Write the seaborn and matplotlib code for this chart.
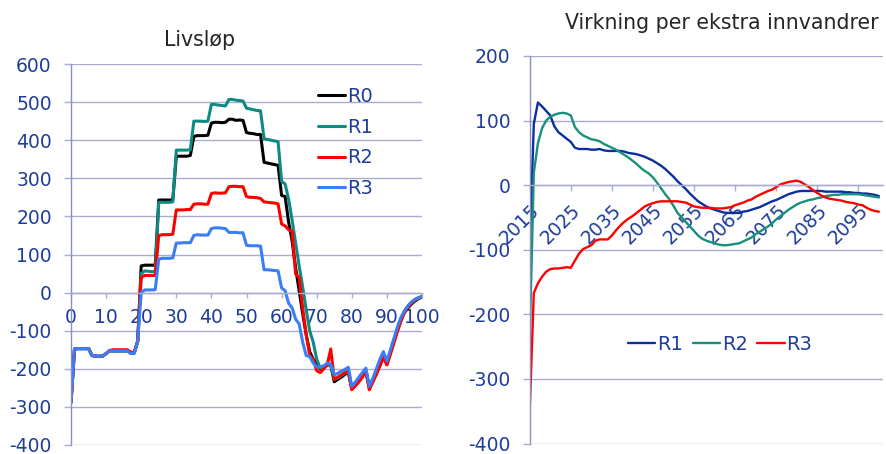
import matplotlib
matplotlib.use("Agg")
import matplotlib.pyplot as plt
import pandas as pd
import seaborn as sns

# --- Livsløp: netto bidrag etter alder ---
alder = list(range(0, 101))

livslop_r0 = [-288, -148, -147, -147, -147, -147, -165, -167, -167, -167,
              -160, -153, -153, -153, -153, -153, -153, -158, -158, -128,
              70, 72, 72, 72, 72, 243, 243, 243, 243, 243,
              358, 358, 358, 358, 360, 410, 412, 412, 412, 413,
              445, 447, 447, 446, 447, 455, 455, 452, 453, 452,
              420, 418, 417, 415, 415, 342, 340, 338, 336, 334,
              255, 252, 185, 135, 65, 5, -55, -110, -155, -175,
              -185, -200, -195, -190, -190, -234, -228, -222, -215, -208,
              -252, -240, -228, -215, -205, -250, -230, -210, -190, -168,
              -188, -158, -128, -98, -72, -52, -40, -30, -22, -16, -12]

livslop_r1 = [-288, -148, -147, -147, -147, -147, -165, -167, -167, -167,
              -160, -153, -153, -153, -153, -153, -153, -158, -158, -128,
              50, 57, 56, 55, 55, 237, 237, 237, 237, 238,
              374, 374, 374, 374, 375, 450, 450, 450, 449, 450,
              494, 494, 492, 491, 490, 507, 507, 505, 504, 503,
              484, 482, 480, 478, 477, 404, 402, 400, 398, 396,
              292, 285, 245, 190, 130, 70, 15, -45, -100, -130,
              -175, -198, -195, -190, -190, -228, -224, -218, -212, -206,
              -250, -238, -226, -213, -203, -248, -228, -208, -188, -165,
              -185, -155, -125, -95, -68, -48, -35, -25, -18, -13, -10]

livslop_r2 = [-288, -148, -147, -147, -147, -147, -165, -167, -167, -167,
              -160, -152, -150, -150, -150, -150, -150, -156, -158, -128,
              40, 45, 45, 45, 45, 150, 152, 152, 152, 153,
              217, 217, 217, 218, 218, 232, 233, 233, 232, 232,
              260, 262, 261, 261, 262, 278, 279, 279, 278, 278,
              252, 250, 250, 249, 247, 238, 237, 236, 235, 233,
              180, 175, 165, 160, 48, 40, -40, -110, -165, -175,
              -205, -210, -200, -190, -148, -228, -222, -216, -210, -206,
              -255, -245, -235, -222, -208, -255, -235, -215, -193, -170,
              -190, -162, -132, -102, -75, -52, -38, -28, -20, -15, -11]

livslop_r3 = [-288, -148, -147, -147, -147, -147, -165, -167, -167, -167,
              -160, -153, -153, -153, -153, -153, -153, -160, -160, -128,
              0, 7, 7, 7, 8, 88, 90, 90, 90, 91,
              130, 130, 131, 131, 131, 150, 152, 151, 151, 151,
              168, 170, 170, 169, 168, 158, 158, 158, 157, 157,
              124, 123, 123, 123, 122, 60, 60, 59, 58, 57,
              12, 5, -28, -40, -70, -82, -130, -165, -168, -185,
              -195, -195, -192, -185, -188, -216, -212, -206, -202, -196,
              -246, -235, -222, -210, -198, -246, -225, -200, -175, -155,
              -180, -150, -120, -90, -65, -48, -35, -25, -18, -14, -11]

# --- Virkning per ekstra innvandrer, 2015-2100 ---
aar = list(range(2015, 2101))

virkning_r1 = [-100, 95, 128, 122, 115, 108, 91, 82, 77, 72,
               67, 58, 56, 56, 56, 55, 55, 56, 54, 53,
               53, 53, 53, 52, 50, 49, 48, 46, 44, 41,
               38, 34, 30, 25, 19, 13, 6, 0, -6, -13,
               -19, -25, -29, -33, -36, -38, -40, -42, -43, -43,
               -43, -43, -41, -40, -38, -36, -34, -31, -28, -25,
               -23, -20, -17, -14, -12, -10, -9, -9, -9, -9,
               -9, -9, -10, -10, -10, -10, -10, -11, -11, -12,
               -12, -13, -13, -14, -15, -17]

virkning_r2 = [-239, 19, 65, 88, 100, 106, 109, 111, 112, 111,
               108, 90, 82, 77, 74, 71, 70, 68, 64, 61,
               58, 55, 51, 47, 43, 38, 33, 27, 22, 18,
               12, 4, -5, -14, -22, -32, -43, -50, -57, -64,
               -71, -78, -83, -86, -88, -90, -92, -93, -93, -92,
               -91, -90, -87, -84, -81, -76, -72, -68, -64, -59,
               -53, -48, -43, -38, -34, -30, -27, -25, -23, -22,
               -20, -19, -17, -16, -15, -15, -14, -14, -14, -14,
               -14, -15, -16, -17, -18, -19]

virkning_r3 = [-350, -167, -152, -142, -134, -130, -129, -129, -128, -127,
               -128, -117, -106, -99, -96, -93, -86, -84, -84, -84,
               -78, -70, -63, -57, -52, -48, -43, -38, -33, -30,
               -28, -26, -25, -25, -25, -25, -25, -26, -27, -30,
               -33, -34, -35, -35, -35, -36, -36, -36, -35, -34,
               -31, -29, -27, -24, -22, -18, -15, -12, -9, -7,
               -3, 1, 3, 5, 6, 7, 5, 1, -3, -8,
               -12, -16, -19, -21, -22, -23, -24, -26, -27, -28,
               -30, -31, -35, -38, -40, -41]

serier_liv = ["R0", "R1", "R2", "R3"]
farger_liv = ["#000000", "#0f8a82", "#ff0000", "#3a7ef7"]
serier_virk = ["R1", "R2", "R3"]
farger_virk = ["#0b2f9c", "#17907c", "#ff0000"]

tekstfarge = "#1f3d99"
gridfarge = "#a9abd0"
aksefarge = "#8a8ec4"

sns.set_style("white")
plt.rcParams["font.family"] = ["DejaVu Sans"]
plt.rcParams["axes.unicode_minus"] = False  # vanlig bindestrek som minus

df_liv = pd.DataFrame({
    "Alder": alder * 4,
    "Verdi": livslop_r0 + livslop_r1 + livslop_r2 + livslop_r3,
    "Serie": sum([[s] * len(alder) for s in serier_liv], []),
})
df_virk = pd.DataFrame({
    "Aar": aar * 3,
    "Verdi": virkning_r1 + virkning_r2 + virkning_r3,
    "Serie": sum([[s] * len(aar) for s in serier_virk], []),
})

fig = plt.figure(figsize=(8.86, 4.54), dpi=100)
ax1 = fig.add_axes([71 / 886, 9 / 454, 351 / 886, 381 / 454])
ax2 = fig.add_axes([529.7 / 886, 10.5 / 454, 353.3 / 886, 387.5 / 454])

sns.lineplot(data=df_liv, x="Alder", y="Verdi", hue="Serie", hue_order=serier_liv,
             palette=farger_liv, linewidth=2.2, estimator=None, ax=ax1)
sns.lineplot(data=df_virk, x="Aar", y="Verdi", hue="Serie", hue_order=serier_virk,
             palette=farger_virk, linewidth=1.7, estimator=None, ax=ax2)


def pynt_akse(ax, ymin, ymax):
    ax.set_ylim(ymin, ymax)
    ax.set_yticks(range(ymin, ymax + 1, 100))
    ax.yaxis.grid(True, color=gridfarge, linewidth=1.0, zorder=0)
    ax.xaxis.grid(False)
    ax.set_xlabel("")
    ax.set_ylabel("")
    for s in ["top", "right"]:
        ax.spines[s].set_visible(False)
    ax.spines["left"].set_color(aksefarge)
    ax.spines["left"].set_linewidth(1.0)
    ax.spines["bottom"].set_position(("data", 0))
    ax.spines["bottom"].set_color(gridfarge)
    ax.spines["bottom"].set_linewidth(1.0)
    ax.tick_params(axis="y", left=True, direction="out", length=4.8, width=1.0,
                   color=gridfarge, pad=9, labelsize=13.5, labelcolor=tekstfarge)
    ax.tick_params(axis="x", bottom=True, direction="out", length=3.8, width=1.0,
                   color=gridfarge, labelsize=13.5, labelcolor=tekstfarge)


# venstre: Livsløp
pynt_akse(ax1, -400, 600)
ax1.set_xlim(0, 100)
ax1.set_xticks(range(0, 101, 10))
ax1.tick_params(axis="x", pad=7)
h, l = ax1.get_legend_handles_labels()
ax1.legend(h, l, loc="center left", bbox_to_anchor=(0.704, 0.794), frameon=False,
           fontsize=14, handlelength=1.4, handletextpad=0.1, labelspacing=0.6,
           borderpad=0, borderaxespad=0, labelcolor=tekstfarge)

# høyre: Virkning per ekstra innvandrer
pynt_akse(ax2, -400, 200)
ax2.set_xlim(2015, 2101)
ax2.set_xticks(range(2015, 2100, 10))
ax2.tick_params(axis="x", pad=7, length=4.5)
plt.setp(ax2.get_xticklabels(), rotation=45, ha="right", rotation_mode="anchor")
h, l = ax2.get_legend_handles_labels()
ax2.legend(h, l, loc="center left", bbox_to_anchor=(0.278, 0.255), frameon=False,
           fontsize=14, ncol=3, handlelength=1.4, handletextpad=0.1, columnspacing=0.5,
           borderpad=0, borderaxespad=0, labelcolor=tekstfarge)

fig.text(200 / 886, 1 - 40 / 454, "Livsløp", ha="center", va="center", fontsize=14.8)
fig.text(722 / 886, 1 - 23 / 454, "Virkning per ekstra innvandrer", ha="center",
         va="center", fontsize=14.8)

fig.savefig("out.png", dpi=100)
